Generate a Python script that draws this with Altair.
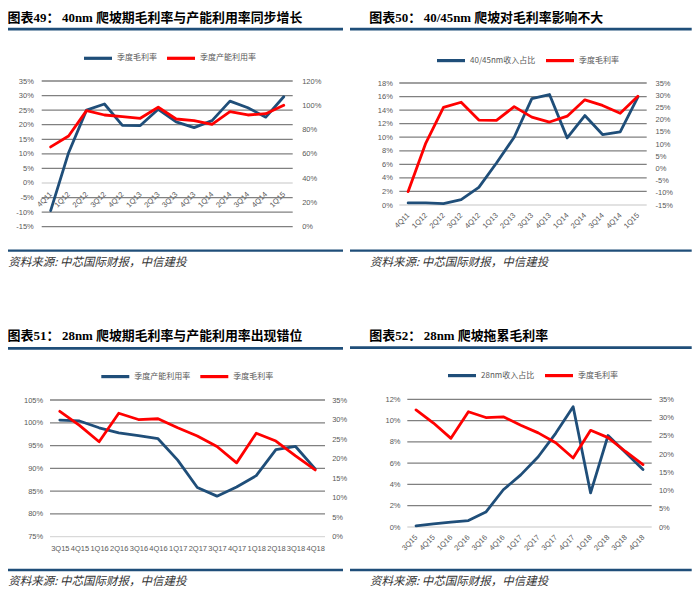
import altair as alt
import pandas as pd

BLUE = "#1F4E79"
RED = "#FF0000"
GRID = "#808080"
BASE = "#D9D9D9"
LABEL = "#595959"
AXFONT = "Liberation Sans"
CJK = "Noto Sans CJK SC"
TFONT = "'Liberation Serif', 'Noto Sans CJK SC'"

W, H = 684, 584
O = 8  # page margin

# ---- data ----
q_a = ["4Q11", "1Q12", "2Q12", "3Q12", "4Q12", "1Q13", "2Q13", "3Q13", "4Q13",
       "1Q14", "2Q14", "3Q14", "4Q14", "1Q15"]
gm_a = [-9.5, 10.4, 25.0, 27.1, 19.8, 19.7, 25.3, 21.0, 19.0, 21.4, 28.1, 25.8, 22.6, 29.6]
util_a = [65.7, 74.7, 95.6, 92.0, 90.7, 89.3, 98.4, 88.7, 87.4, 84.3, 94.8, 92.0, 93.1, 100.0]
share_40 = [0.3, 0.3, 0.2, 0.8, 2.6, 6.2, 10.0, 15.7, 16.3, 9.9, 13.2, 10.4, 10.8, 15.9]

q_b = ["3Q15", "4Q15", "1Q16", "2Q16", "3Q16", "4Q16", "1Q17", "2Q17", "3Q17",
       "4Q17", "1Q18", "2Q18", "3Q18", "4Q18"]
util_b = [100.6, 100.4, 98.9, 97.8, 97.2, 96.5, 91.8, 85.8, 83.9, 85.9, 88.4, 94.1, 94.8, 89.9]
gm_b = [32.1, 28.5, 24.3, 31.6, 30.0, 30.2, 27.9, 25.8, 23.1, 18.9, 26.5, 24.5, 20.7, 17.1]
share_28 = [0.1, 0.3, 0.45, 0.6, 1.4, 3.5, 4.9, 6.6, 8.8, 11.3, 3.2, 8.6, 7.0, 5.4]

title_prefix = ["图表49：", "图表50：", "图表51：", "图表52："]
title_body = [
    "40nm 爬坡期毛利率与产能利用率同步增长",
    "40/45nm 爬坡对毛利率影响不大",
    "28nm 爬坡期毛利率与产能利用率出现错位",
    "28nm 爬坡拖累毛利率",
]
source = "资料来源: 中芯国际财报，中信建投"

one = pd.DataFrame({"k": [0]})


def P(v):
    return v - O


def panel(cats, lname, lvals, rname, rvals, ldom, lticks, rdom, rticks, base,
          px, py, lpad, rpad, x_angle, x_pad, axis_at_zero,
          tx, ty, prefix, body, rule_x, top_y, bot_y, sx, sy, leg_x, leg_y):
    x0, x1 = P(px[0]), P(px[1])
    y0, y1 = P(py[0]), P(py[1])
    dfl = pd.DataFrame({"q": cats, "v": lvals, "s": [lname] * len(cats)})
    dfr = pd.DataFrame({"q": cats, "v": rvals, "s": [rname] * len(cats)})
    dft = pd.DataFrame({"t": lticks})
    xs = alt.Scale(type="point", domain=cats, range=[x0, x1], padding=0.5)
    ysl = alt.Scale(domain=ldom, range=[y1, y0], nice=False, zero=False)
    ysr = alt.Scale(domain=rdom, range=[y1, y0], nice=False, zero=False)
    cs = alt.Scale(domain=[lname, rname], range=[BLUE, RED])

    if axis_at_zero:
        ax_y = y1 - (0 - ldom[0]) / (ldom[1] - ldom[0]) * (y1 - y0)
    else:
        ax_y = y1
    if x_angle == 0:
        xaxis = alt.Axis(orient="bottom", offset=ax_y - H, labelAngle=0,
                         labelAlign="center", labelBaseline="middle", labelPadding=x_pad,
                         domain=False, ticks=False, grid=False, labelFont=AXFONT,
                         labelFontSize=7.5, labelColor=LABEL, labelOverlap=False, title=None)
    else:
        xaxis = alt.Axis(orient="bottom", offset=ax_y - H, labelAngle=x_angle,
                         labelAlign="right", labelBaseline="middle", labelPadding=x_pad,
                         domain=False, ticks=False, grid=False, labelFont=AXFONT,
                         labelFontSize=7.5, labelColor=LABEL, labelOverlap=False, title=None)

    grid = alt.Chart(dft).mark_rule(strokeWidth=1.3).encode(
        y=alt.Y("t:Q", scale=ysl, axis=None),
        x=alt.value(x0), x2=alt.value(x1),
        color=alt.condition(f"datum.t === {base}", alt.value(BASE), alt.value(GRID)),
    )
    left = alt.Chart(dfl).mark_line(strokeWidth=2.8, strokeJoin="round", strokeCap="round").encode(
        x=alt.X("q:N", scale=xs, axis=xaxis, sort=cats),
        y=alt.Y("v:Q", scale=ysl,
                axis=alt.Axis(orient="left", offset=-x0, values=lticks,
                              labelExpr="datum.value + '%'", grid=False, domain=False,
                              ticks=False, labelPadding=lpad, labelFont=AXFONT,
                              labelFontSize=7.5, labelColor=LABEL, title=None)),
        color=alt.Color("s:N", scale=cs, legend=alt.Legend(
            orient="none", legendX=P(leg_x), legendY=P(leg_y) - 14,
            direction="horizontal", title=None, symbolType="stroke",
            symbolSize=784, symbolStrokeWidth=3.2, labelFont=CJK,
            labelFontSize=8, labelColor=LABEL, labelOffset=3,
            columnPadding=3, padding=0, labelLimit=300)),
    )
    right = alt.Chart(dfr).mark_line(strokeWidth=2.8, strokeJoin="round", strokeCap="round").encode(
        x=alt.X("q:N", scale=xs, axis=None, sort=cats),
        y=alt.Y("v:Q", scale=ysr,
                axis=alt.Axis(orient="right", offset=x1 - W, values=rticks,
                              labelExpr="datum.value + '%'", grid=False, domain=False,
                              ticks=False, labelPadding=rpad, labelFont=AXFONT,
                              labelFontSize=7.5, labelColor=LABEL, title=None)),
        color=alt.Color("s:N", scale=cs, legend=None),
    )
    t1 = alt.Chart(one).mark_text(align="left", baseline="middle", font=TFONT, fontSize=13,
                                  fontWeight="bold", color="#000000").encode(
        x=alt.value(P(tx)), y=alt.value(P(ty)), text=alt.value(prefix))
    t2 = alt.Chart(one).mark_text(align="left", baseline="middle", font=TFONT, fontSize=12.9,
                                  fontWeight="bold", color="#000000").encode(
        x=alt.value(P(tx) + 54.5), y=alt.value(P(ty)), text=alt.value(body))
    rtop = alt.Chart(one).mark_rule(color=BLUE, strokeWidth=2.8).encode(
        x=alt.value(P(rule_x[0])), x2=alt.value(P(rule_x[1])), y=alt.value(P(top_y)))
    rbot = alt.Chart(one).mark_rule(color=BLUE, strokeWidth=2.3).encode(
        x=alt.value(P(rule_x[0])), x2=alt.value(P(rule_x[1])), y=alt.value(P(bot_y)))
    src = alt.Chart(one).mark_text(align="left", baseline="middle", font=CJK, fontSize=11.5,
                                   fontStyle="italic", color="#333333").encode(
        x=alt.value(P(sx)), y=alt.value(P(sy)), text=alt.value(source))
    return [grid, left, right, t1, t2, rtop, rbot, src]


layers = []
layers += panel(q_a, "季度毛利率", gm_a, "季度产能利用率", util_a,
                [-15, 35], list(range(-15, 36, 5)), [0, 120], list(range(0, 121, 20)), 0,
                (41.7, 292.7), (81, 226.7), 8.4, 9, -45, 10, True,
                7.5, 18.3, title_prefix[0], title_body[0], (8, 343), 29.2, 250.7,
                8.3, 263.3, 82, 56)
layers += panel(q_a, "40/45nm收入占比", share_40, "季度毛利率", gm_a,
                [0, 18], list(range(0, 19, 2)), [-15, 35], list(range(-15, 36, 5)), 0,
                (399.3, 646.7), (83, 205), 7, 8.3, -45, 9, False,
                369.3, 18.3, title_prefix[1], title_body[1], (350, 691.7), 29.2, 250.7,
                370, 263.3, 435, 58.3)
layers += panel(q_b, "季度产能利用率", util_b, "季度毛利率", gm_b,
                [75, 105], list(range(75, 106, 5)), [0, 35], list(range(0, 36, 5)), 75,
                (50, 325), (400, 536.7), 7.3, 6.7, 0, 12, False,
                7.5, 335.7, title_prefix[2], title_body[2], (8, 343), 348.3, 570,
                8.3, 581.7, 99.3, 374.3)
layers += panel(q_b, "28nm收入占比", share_28, "季度毛利率", gm_b,
                [0, 12], list(range(0, 13, 2)), [0, 35], list(range(0, 36, 5)), 0,
                (407.3, 651.7), (399.3, 527), 7.3, 6.7, -45, 9, False,
                369.3, 335.7, title_prefix[3], title_body[3], (350, 691.7), 347.7, 570,
                370, 581.7, 446, 373.3)

chart = alt.layer(*layers).resolve_scale(
    x="independent", y="independent", color="independent"
).properties(
    width=W, height=H, padding=0, autosize=alt.AutoSizeParams(type="none")
).configure_view(stroke=None)

chart.save("out.html", embed_options={"renderer": "svg", "actions": False})
